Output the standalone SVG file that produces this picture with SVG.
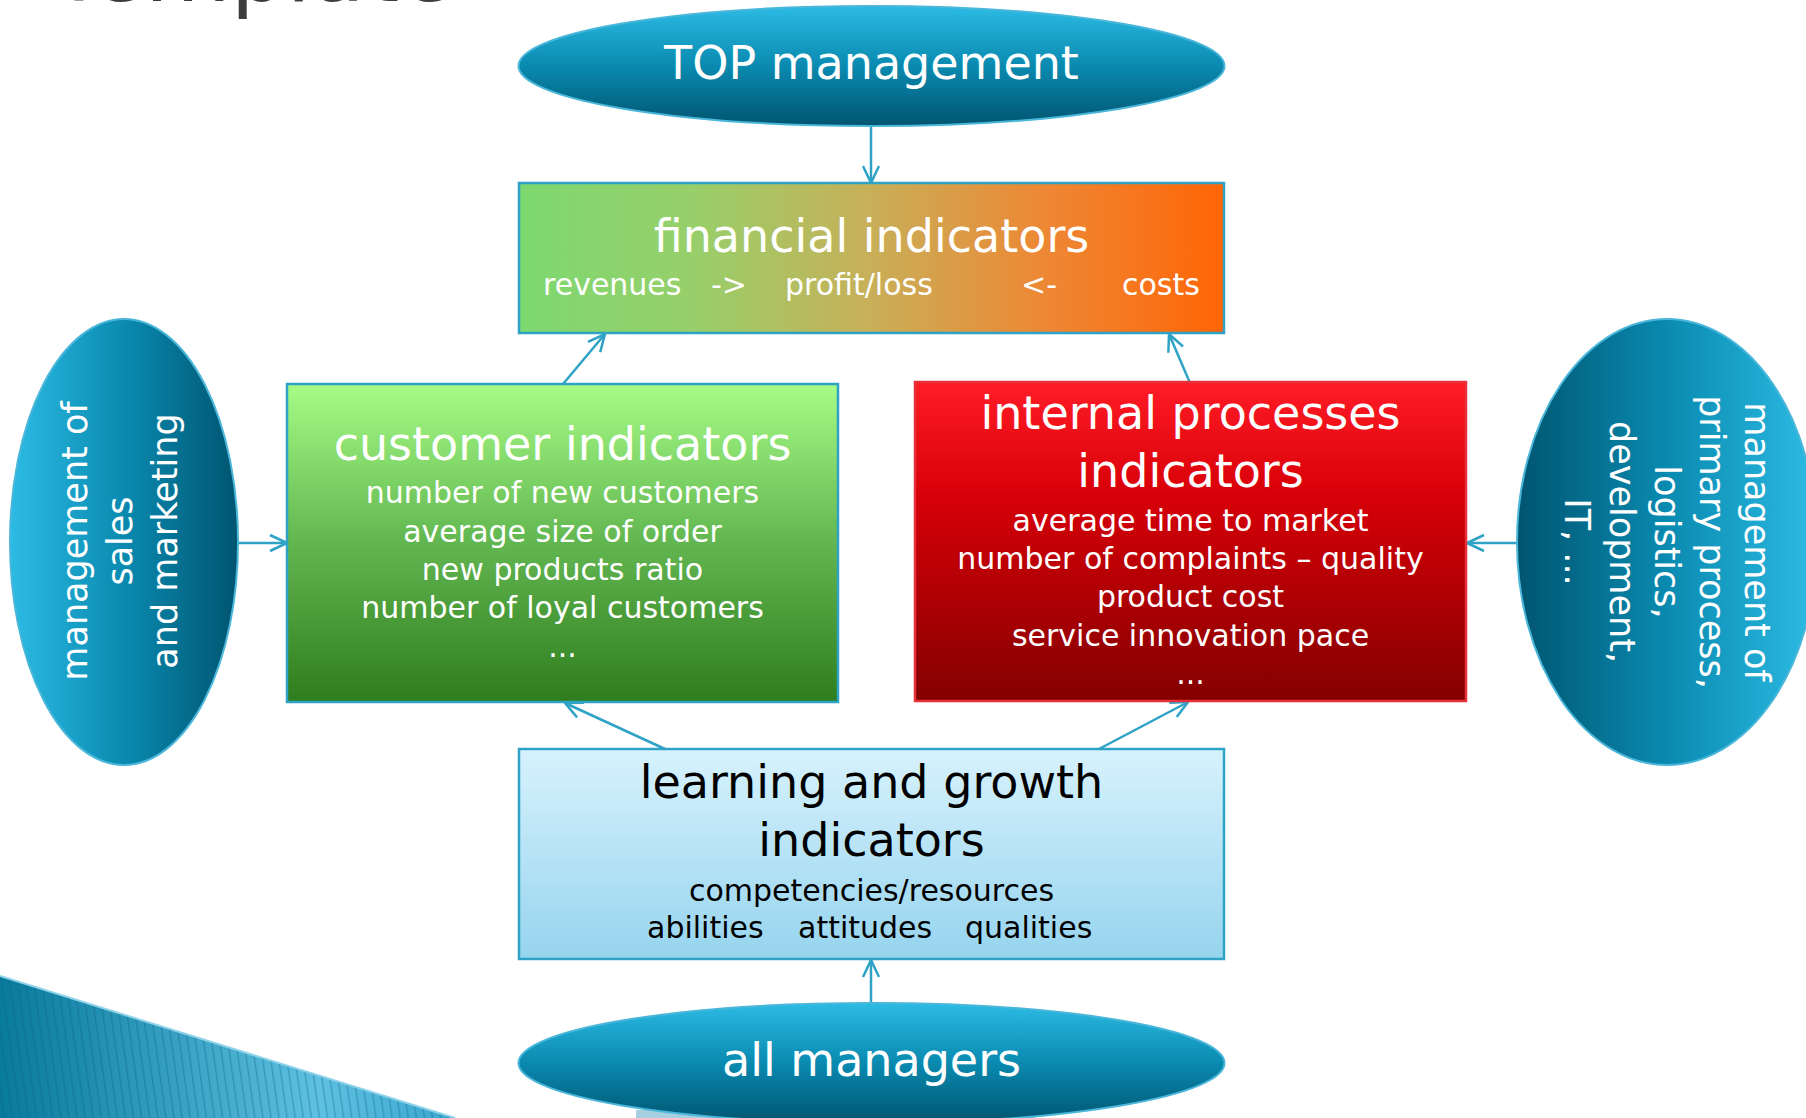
<svg xmlns="http://www.w3.org/2000/svg" width="1806" height="1118" viewBox="0 0 1806 1118">
  <defs>
    <style>
      text { font-family: "DejaVu Sans", "Liberation Sans", sans-serif; }
      .w { fill: #ffffff; }
      .k { fill: #000000; }
      .t46 { font-size: 46px; }
      .t35 { font-size: 35px; }
      .t30 { font-size: 30px; }
      .mid { text-anchor: middle; }
      .conn { stroke: #2fa3c6; stroke-width: 2.5; fill: none; marker-end: url(#arr); }
      .ell { stroke: #49b6da; stroke-width: 2; }
      .box { stroke: #2fa3c6; stroke-width: 2.5; }
    </style>
    <marker id="arr" viewBox="0 0 20 20" refX="19" refY="10" markerWidth="20" markerHeight="20" markerUnits="userSpaceOnUse" orient="auto">
      <path d="M2,2 L19,10 L2,18" fill="none" stroke="#2fa3c6" stroke-width="2.5"/>
    </marker>
    <linearGradient id="gEllV" x1="0" y1="0" x2="0" y2="1">
      <stop offset="0" stop-color="#2cbbe4"/>
      <stop offset="0.5" stop-color="#0a8ab0"/>
      <stop offset="1" stop-color="#005570"/>
    </linearGradient>
    <linearGradient id="gEllL" x1="0" y1="0" x2="1" y2="0">
      <stop offset="0" stop-color="#2cbbe4"/>
      <stop offset="0.5" stop-color="#0a8ab0"/>
      <stop offset="1" stop-color="#005570"/>
    </linearGradient>
    <linearGradient id="gEllR" x1="1" y1="0" x2="0" y2="0">
      <stop offset="0" stop-color="#2cbbe4"/>
      <stop offset="0.5" stop-color="#0a8ab0"/>
      <stop offset="1" stop-color="#005570"/>
    </linearGradient>
    <linearGradient id="gFin" x1="0" y1="0" x2="1" y2="0">
      <stop offset="0" stop-color="#7dd870"/>
      <stop offset="0.25" stop-color="#98cf6a"/>
      <stop offset="0.5" stop-color="#c8af58"/>
      <stop offset="0.75" stop-color="#ee8734"/>
      <stop offset="1" stop-color="#ff6506"/>
    </linearGradient>
    <linearGradient id="gCust" x1="0" y1="0" x2="0" y2="1">
      <stop offset="0" stop-color="#a6fc86"/>
      <stop offset="0.5" stop-color="#62b650"/>
      <stop offset="1" stop-color="#2e7d1e"/>
    </linearGradient>
    <linearGradient id="gInt" x1="0" y1="0" x2="0" y2="1">
      <stop offset="0" stop-color="#ff1c26"/>
      <stop offset="0.35" stop-color="#d80008"/>
      <stop offset="1" stop-color="#840000"/>
    </linearGradient>
    <linearGradient id="gLearn" x1="0" y1="0" x2="0" y2="1">
      <stop offset="0" stop-color="#d7f2fd"/>
      <stop offset="1" stop-color="#96d4ee"/>
    </linearGradient>
    <linearGradient id="gTri" gradientUnits="userSpaceOnUse" x1="0" y1="0" x2="455" y2="0">
      <stop offset="0" stop-color="#087a9c"/>
      <stop offset="0.7" stop-color="#5ec0e2"/>
      <stop offset="1" stop-color="#3aa6cf"/>
    </linearGradient>
    <pattern id="stripes" width="8" height="40" patternUnits="userSpaceOnUse" patternTransform="rotate(-8)">
      <rect x="0" y="0" width="1.4" height="40" fill="#0b5f7c" opacity="0.35"/>
    </pattern>
  </defs>

  <rect width="1806" height="1118" fill="#ffffff"/>

  <!-- slide title fragment -->
  <text x="52" y="1" style="font-size:88px" fill="#3c3c3c">Template</text>

  <!-- bottom-left decoration -->
  <g id="decoration">
    <polygon points="0,976 455,1118 0,1118" fill="url(#gTri)"/>
    <polygon points="0,976 455,1118 0,1118" fill="url(#stripes)"/>
    <line x1="0" y1="976" x2="455" y2="1118" stroke="#8ed2ea" stroke-width="2"/>
    <rect x="636" y="1110" width="400" height="8" fill="#a6cfe0"/>
  </g>

  <g id="connectors">
    <line class="conn" x1="871" y1="127" x2="871" y2="183"/>
    <line class="conn" x1="563" y1="384" x2="605" y2="334"/>
    <line class="conn" x1="1190" y1="383" x2="1169" y2="334"/>
    <line class="conn" x1="238" y1="543" x2="287" y2="543"/>
    <line class="conn" x1="1517" y1="543" x2="1467" y2="543"/>
    <line class="conn" x1="665" y1="749" x2="565" y2="703"/>
    <line class="conn" x1="1099" y1="749" x2="1188" y2="702"/>
    <line class="conn" x1="871" y1="1003" x2="871" y2="960"/>
  </g>

  <g id="top-management">
    <ellipse class="ell" cx="871.5" cy="66" rx="353" ry="60" fill="url(#gEllV)"/>
    <text class="w t46 mid" x="871.5" y="79">TOP management</text>
  </g>

  <g id="financial-indicators">
    <rect class="box" x="519" y="183" width="705" height="150" fill="url(#gFin)"/>
    <text class="w t46 mid" x="871.5" y="252">financial indicators</text>
    <text class="w t30" x="543" y="295">revenues</text>
    <text class="w t30" x="711" y="295">-&gt;</text>
    <text class="w t30" x="785" y="295">profit/loss</text>
    <text class="w t30" x="1021" y="295">&lt;-</text>
    <text class="w t30" x="1122" y="295">costs</text>
  </g>

  <g id="customer-indicators">
    <rect class="box" x="287" y="384" width="551" height="318" fill="url(#gCust)"/>
    <text class="w t46 mid" x="562.5" y="460">customer indicators</text>
    <text class="w t30 mid" x="562.5" y="503">number of new customers</text>
    <text class="w t30 mid" x="562.5" y="542">average size of order</text>
    <text class="w t30 mid" x="562.5" y="580">new products ratio</text>
    <text class="w t30 mid" x="562.5" y="618">number of loyal customers</text>
    <text class="w t30 mid" x="562.5" y="657">...</text>
  </g>

  <g id="internal-processes-indicators">
    <rect x="915" y="382" width="551" height="319" fill="url(#gInt)" stroke="#e8303a" stroke-width="2.5"/>
    <text class="w t46 mid" x="1190.5" y="429">internal processes</text>
    <text class="w t46 mid" x="1190.5" y="487">indicators</text>
    <text class="w t30 mid" x="1190.5" y="531">average time to market</text>
    <text class="w t30 mid" x="1190.5" y="569">number of complaints – quality</text>
    <text class="w t30 mid" x="1190.5" y="607">product cost</text>
    <text class="w t30 mid" x="1190.5" y="646">service innovation pace</text>
    <text class="w t30 mid" x="1190.5" y="684">...</text>
  </g>

  <g id="learning-growth-indicators">
    <rect class="box" x="519" y="749" width="705" height="210" fill="url(#gLearn)"/>
    <text class="k t46 mid" x="871.5" y="798">learning and growth</text>
    <text class="k t46 mid" x="871.5" y="856">indicators</text>
    <text class="k t30 mid" x="871.5" y="901">competencies/resources</text>
    <text class="k t30" x="647" y="938">abilities</text>
    <text class="k t30" x="798" y="938">attitudes</text>
    <text class="k t30" x="965" y="938">qualities</text>
  </g>

  <g id="sales-marketing">
    <ellipse class="ell" cx="124" cy="542" rx="114" ry="223" fill="url(#gEllL)"/>
    <text class="w t35 mid" transform="translate(87,541) rotate(-90)">management of</text>
    <text class="w t35 mid" transform="translate(132,541) rotate(-90)">sales</text>
    <text class="w t35 mid" transform="translate(177,541) rotate(-90)">and marketing</text>
  </g>

  <g id="primary-process">
    <ellipse class="ell" cx="1667" cy="542" rx="150" ry="223" fill="url(#gEllR)"/>
    <text class="w t35 mid" transform="translate(1745,542) rotate(90)">management of</text>
    <text class="w t35 mid" transform="translate(1700,542) rotate(90)">primary process,</text>
    <text class="w t35 mid" transform="translate(1655,542) rotate(90)">logistics,</text>
    <text class="w t35 mid" transform="translate(1610,542) rotate(90)">development,</text>
    <text class="w t35 mid" transform="translate(1565,542) rotate(90)">IT, ...</text>
  </g>

  <g id="all-managers">
    <ellipse class="ell" cx="871.5" cy="1063" rx="353" ry="60" fill="url(#gEllV)"/>
    <text class="w t46 mid" x="871.5" y="1076">all managers</text>
  </g>
</svg>
